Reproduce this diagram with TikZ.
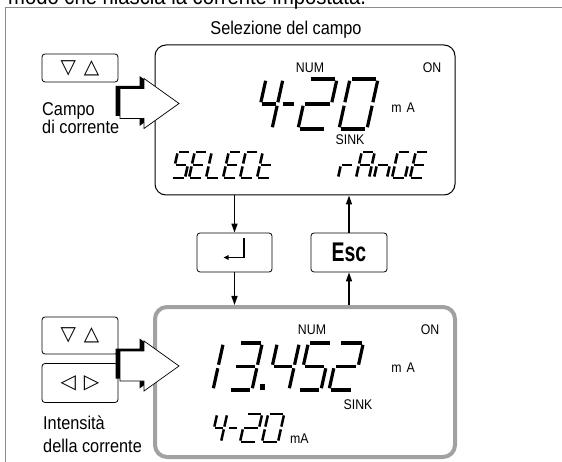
\documentclass[tikz,border=0pt]{standalone}
\usepackage{fontspec}
\setmainfont{Liberation Sans}[FakeStretch=0.88]
\newfontfamily\escfont{Liberation Sans}[FakeStretch=0.72]
\newfontfamily\symfont{DejaVu Sans}
\usetikzlibrary{arrows.meta}

\def\sssega{\draw (\sg,\sh) -- (\sw-\sg,\sh);}
\def\sssegb{\draw (\sw,\sh-\sg) -- (\sw,\sh/2+\sg);}
\def\sssegc{\draw (\sw,\sh/2-\sg) -- (\sw,\sg);}
\def\sssegd{\draw (\sg,0) -- (\sw-\sg,0);}
\def\sssege{\draw (0,\sg) -- (0,\sh/2-\sg);}
\def\sssegf{\draw (0,\sh/2+\sg) -- (0,\sh-\sg);}
\def\sssegg{\draw (\sg,\sh/2) -- (\sw-\sg,\sh/2);}
\newcommand{\ssd}[6]{%
  \begin{scope}[shift={(#1,#2)},x=1pt,y=1pt,xslant=0.22,line width=#5pt,line cap=butt]
    \def\sw{#3}\def\sh{#4}\pgfmathsetmacro\sg{0.55*#5}%
    \foreach \s in {#6}{\csname ssseg\s\endcsname}%
  \end{scope}}
\newcommand{\bigarrow}[1]{%
  \fill[black,xshift=-4.5pt,yshift=2.5pt] (120,#1-15) -- (144,#1-15) -- (144,#1-25) -- (179,#1) -- (144,#1+25) -- (144,#1+15) -- (120,#1+15) -- cycle;
  \filldraw[fill=white,draw=black,line width=0.7pt] (120,#1-15) -- (144,#1-15) -- (144,#1-25) -- (179,#1) -- (144,#1+25) -- (144,#1+15) -- (120,#1+15) -- cycle;}

\begin{document}
\begin{tikzpicture}[x=1pt,y=-1pt,
  lbl/.style={font=\fontsize{18.5}{20}\selectfont,inner sep=0pt},
  small/.style={font=\fontsize{14}{16}\selectfont,inner sep=0pt},
  key/.style={draw,rounded corners=3pt,line width=0.8pt,inner sep=0pt},
  keysym/.style={font=\symfont\fontsize{20}{20}\selectfont},
  arr/.style={line width=1.4pt,-{Triangle[length=9pt,width=6pt]}},
  lcdA/.style={draw,line width=1pt,rounded corners=11pt,minimum width=300pt,minimum height=150pt,inner sep=0pt},
  lcdB/.style={draw=black!37,line width=4pt,rounded corners=12pt,minimum width=300pt,minimum height=150pt,inner sep=0pt}]
\useasboundingbox (0,0) rectangle (562,462);
\clip (0,0) rectangle (562,462);
\fill[white] (0,0) rectangle (562,462);
\draw[black!45,line width=1pt] (562,8) -- (5,8) -- (5,462);
\node[font=\fontsize{23}{25}\selectfont,inner sep=0pt,anchor=base west] (intro) at (8,5) {modo che rilascia la corrente impostata.};
\node[lbl,anchor=base] (title) at (286,35) {Selezione del campo};

\node[lcdA] (lcd1) at (305,120) {};
\node[lcdB] (lcd2) at (305,382) {};

% keys
\node[key,keysym,minimum width=76pt,minimum height=28pt] (k1) at (80,68) {▽\hspace{8pt}△};
\node[key,minimum width=75pt,minimum height=39pt] (enter) at (234.5,252.5) {};
\node[key,minimum width=76pt,minimum height=39pt,font=\escfont\bfseries\fontsize{27}{27}\selectfont] (esc) at (349,252.5) {Esc};
\node[key,keysym,minimum width=76pt,minimum height=37pt] (k2) at (80,335.5) {▽\hspace{8pt}△};
\node[key,keysym,minimum width=76pt,minimum height=39pt] (k3) at (80,383) {◁\hspace{8pt}▷};
\draw[line width=1.2pt,-{Triangle[length=5pt,width=4.5pt]},shift={(enter.center)}] (9.5,-14) -- (9.5,5) -- (-11,5);

% labels
\node[lbl,anchor=base west] (l1) at (42,116) {Campo};
\node[lbl,anchor=base west] (l2) at (42,134) {di corrente};
\node[lbl,anchor=base west] (l3) at (43,429) {Intensità};
\node[lbl,anchor=base west] (l4) at (43,452) {della corrente};

% connectors
\draw[arr] (enter.north |- lcd1.south) -- (enter.north);
\draw[arr] (enter.south) -- (enter.south |- lcd2.north);
\draw[arr] (esc.south |- lcd2.north) -- (esc.south);
\draw[arr] (esc.north) -- (esc.north |- lcd1.south);

% big arrows
\bigarrow{103.5}
\bigarrow{366}

% top display
\node[small] (num1) at (310,68) {NUM};
\node[small] (on1) at (432,68) {ON};
\node[small] (ma1) at (403,108) {m\hspace{5pt}A};
\node[small] (sink1) at (350,140) {SINK};
\ssd{255}{129}{17}{50}{3.2}{f,g,b,c}
\ssd{276}{129}{14}{50}{3.2}{g}
\ssd{298}{129}{28}{50}{3.2}{a,b,g,e,d}
\ssd{339}{129}{28}{50}{3.2}{a,b,c,d,e,f}
\ssd{172}{178}{13}{26}{2.6}{a,f,g,c,d}
\ssd{189}{178}{13}{26}{2.6}{a,f,g,e,d}
\ssd{206}{178}{13}{26}{2.6}{f,e,d}
\ssd{223}{178}{13}{26}{2.6}{a,f,g,e,d}
\ssd{240}{178}{13}{26}{2.6}{a,f,e,d}
\ssd{257}{178}{13}{26}{2.6}{f,g,e,d}
\ssd{338}{178}{13}{26}{2.6}{e,g}
\ssd{356}{178}{13}{26}{2.6}{a,b,c,e,f,g}
\ssd{374}{178}{13}{26}{2.6}{e,g,c}
\ssd{392}{178}{13}{26}{2.6}{a,f,e,d,c}
\ssd{410}{178}{13}{26}{2.6}{a,f,g,e,d}

% bottom display
\node[small] (num2) at (312,330) {NUM};
\node[small] (on2) at (430,330) {ON};
\node[small] (ma2) at (403,368) {m\hspace{5pt}A};
\node[small] (sink2) at (358,405) {SINK};
\node[small,anchor=base west] (ma3) at (290,443) {mA};
\ssd{190}{390}{23}{47}{3.2}{b,c}
\ssd{229}{390}{23}{47}{3.2}{a,b,g,c,d}
\fill (259.5,384) rectangle (265,390);
\ssd{267}{390}{22}{47}{3.2}{f,g,b,c}
\ssd{298}{390}{23}{47}{3.2}{a,f,g,c,d}
\ssd{329}{390}{24}{47}{3.2}{a,b,g,e,d}
\ssd{211}{442}{10}{28}{2.5}{f,g,b,c}
\ssd{225}{442}{10}{28}{2.5}{g}
\ssd{240}{442}{16}{28}{2.5}{a,b,g,e,d}
\ssd{262}{442}{16}{28}{2.5}{a,b,c,d,e,f}
\end{tikzpicture}
\end{document}
